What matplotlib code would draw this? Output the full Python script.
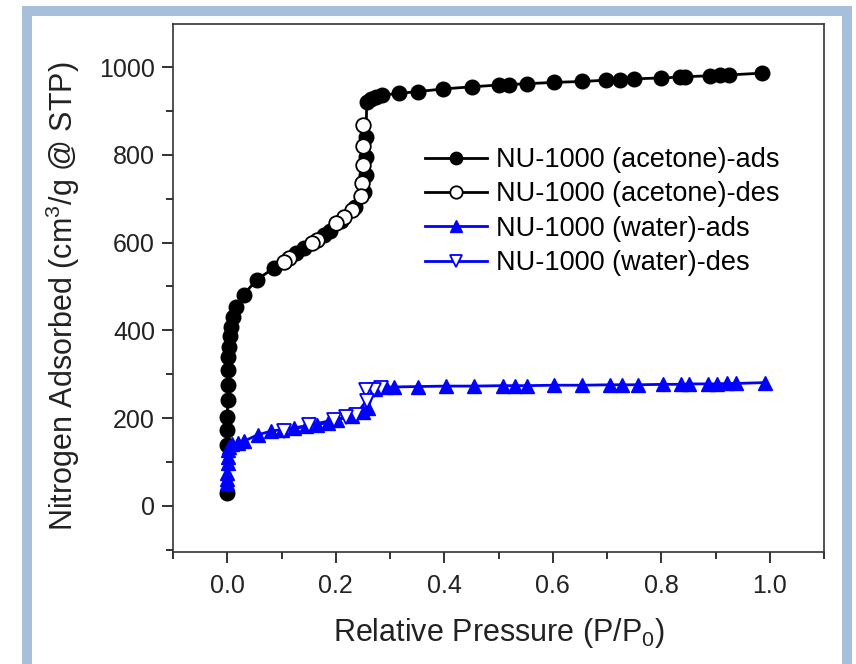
import matplotlib
matplotlib.use("Agg")
import matplotlib.pyplot as plt
from matplotlib.patches import Rectangle
from matplotlib.ticker import MultipleLocator

plt.rcParams["font.family"] = ["Liberation Sans", "DejaVu Sans"]
plt.rcParams["mathtext.fontset"] = "custom"
plt.rcParams["mathtext.rm"] = "Liberation Sans"
plt.rcParams["mathtext.it"] = "Liberation Sans:italic"

# NU-1000 (acetone) adsorption branch
ace_ads_p = [0.0001, 0.0002, 0.0003, 0.0004, 0.0005, 0.0007, 0.001, 0.002, 0.003,
             0.005, 0.007, 0.011, 0.017, 0.030, 0.054, 0.086, 0.126, 0.141, 0.178,
             0.190, 0.210, 0.235, 0.252, 0.255, 0.255, 0.256, 0.257, 0.265, 0.275,
             0.286, 0.316, 0.352, 0.397, 0.452, 0.500, 0.520, 0.553, 0.603, 0.653,
             0.699, 0.724, 0.749, 0.799, 0.835, 0.844, 0.890, 0.909, 0.925, 0.986]
ace_ads_v = [30, 139, 173, 203, 241, 276, 310, 340, 363,
             386, 408, 431, 454, 481, 515, 542, 576, 588, 617,
             627, 650, 680, 715, 754, 796, 841, 921, 928, 932,
             936, 940, 944, 950, 955, 959, 960, 962, 965, 967,
             970, 971, 973, 975, 977, 978, 980, 981, 982, 986]

# NU-1000 (acetone) desorption branch
ace_des_p = [0.251, 0.251, 0.250, 0.249, 0.246, 0.230, 0.215, 0.200, 0.166, 0.157,
             0.113, 0.104]
ace_des_v = [868, 820, 777, 736, 705, 674, 658, 645, 607, 600, 565, 556]

# NU-1000 (water) adsorption branch
wat_ads_p = [0.0001, 0.0002, 0.0003, 0.0005, 0.001, 0.002, 0.004, 0.008, 0.019,
             0.030, 0.056, 0.080, 0.100, 0.123, 0.145, 0.166, 0.185, 0.203, 0.230,
             0.251, 0.259, 0.272, 0.292, 0.307, 0.352, 0.403, 0.454, 0.508, 0.530,
             0.552, 0.603, 0.654, 0.706, 0.728, 0.757, 0.804, 0.836, 0.852, 0.887,
             0.903, 0.922, 0.938, 0.992]
wat_ads_v = [52, 62, 75, 98, 112, 127, 135, 140, 143,
             147, 162, 170, 174, 178, 182, 185, 190, 196, 205,
             215, 222, 266, 270, 271, 272, 273, 273, 274, 274,
             274, 275, 275, 276, 276, 276, 277, 277, 278, 278,
             278, 279, 279, 281]

# NU-1000 (water) desorption branch
wat_des_p = [0.283, 0.270, 0.256, 0.257, 0.237, 0.218, 0.197, 0.151, 0.105]
wat_des_v = [268, 265, 264, 240, 208, 203, 196, 184, 170]

fig = plt.figure(figsize=(8.56, 6.64), dpi=100)
fig.patches.append(Rectangle((27 / 856, -0.01), 819.5 / 856, 1 - 11 / 664 + 0.01,
                             transform=fig.transFigure, fill=False,
                             edgecolor="#a6bfdb", linewidth=7.2))
ax = fig.add_axes([173 / 856, 1 - 552 / 664, 651 / 856, 528 / 664])

ms = 10.5
lw = 2.0
ax.plot(ace_ads_p, ace_ads_v, "-o", color="black", lw=lw, ms=ms,
        label="NU-1000 (acetone)-ads")
ax.plot(ace_des_p, ace_des_v, "-o", color="black", lw=lw, ms=ms,
        mfc="white", mec="black", mew=1.3, label="NU-1000 (acetone)-des")
ax.plot(wat_ads_p, wat_ads_v, "-^", color="blue", lw=lw, ms=ms,
        label="NU-1000 (water)-ads")
ax.plot(wat_des_p, wat_des_v, "-v", color="blue", lw=lw, ms=ms,
        mfc="white", mec="blue", mew=1.3, label="NU-1000 (water)-des")

ax.set_xlim(-0.1, 1.1)
ax.set_ylim(-105, 1098)
ax.xaxis.set_major_locator(MultipleLocator(0.2))
ax.xaxis.set_minor_locator(MultipleLocator(0.1))
ax.yaxis.set_major_locator(MultipleLocator(200))
ax.yaxis.set_minor_locator(MultipleLocator(100))
ax.xaxis.set_major_formatter(matplotlib.ticker.FormatStrFormatter("%.1f"))
ax.tick_params(which="both", direction="out", width=1.3, top=False, right=False,
               labelsize=18, pad=5, colors="#222222")
ax.tick_params(axis="x", which="both", pad=8)
ax.tick_params(which="major", length=8)
ax.tick_params(which="minor", length=5)
for s in ax.spines.values():
    s.set_linewidth(1.2)
    s.set_color("#333333")

ax.set_xlabel("Relative Pressure (P/P$\\mathregular{_0}$)", fontsize=22, color="#222222")
ax.set_ylabel("Nitrogen Adsorbed (cm$\\mathregular{^3}$/g @ STP)", fontsize=22,
              color="#222222")
ax.xaxis.set_label_coords(0.5, -0.121)
ax.yaxis.set_label_coords(-0.14, 0.485)

leg = ax.legend(loc="upper left", bbox_to_anchor=(425 / 856, 1 - 147 / 664),
                bbox_transform=fig.transFigure, frameon=False, fontsize=19.5,
                borderpad=0, handlelength=2.3, handletextpad=0.33, labelspacing=0.31,
                borderaxespad=0, markerscale=0.85)

fig.savefig("out.png", dpi=100)
